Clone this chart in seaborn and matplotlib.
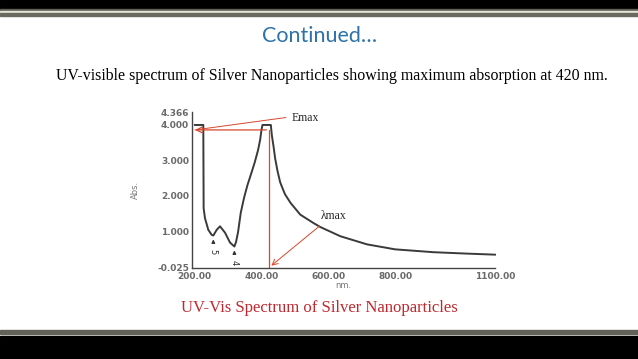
import numpy as np
import pandas as pd
import matplotlib
matplotlib.use('Agg')
import matplotlib.pyplot as plt
import seaborn as sns
from matplotlib.patches import Rectangle

# 1. DATA
wavelength_nm = [200, 212, 226, 227, 231, 241, 251, 256, 266, 276, 291, 306, 319, 324,
                 330, 338, 348, 358, 370, 380, 390, 396, 400, 403, 428, 431, 436,
                 441, 448, 456, 470, 487, 516, 556, 576, 636, 716, 800, 914, 1014, 1100]
absorbance = [4.00, 4.00, 4.00, 1.65, 1.37, 1.04, 0.90, 0.88, 1.04, 1.14, 0.96, 0.68, 0.57, 0.70,
              0.98, 1.52, 1.95, 2.30, 2.65, 2.95, 3.30, 3.58, 3.86, 4.00, 4.00, 3.71, 3.40,
              3.05, 2.70, 2.38, 2.05, 1.80, 1.47, 1.23, 1.12, 0.86, 0.63, 0.49, 0.41, 0.37, 0.34]
tick_x = [200, 400, 600, 800, 1000, 1100]
tick_x_labels = ['200.00', '400.00', '600.00', '800.00', '', '1100.00']
tick_y = [-0.025, 1.0, 2.0, 3.0, 4.0, 4.366]
tick_y_labels = ['-0.025', '1.000', '2.000', '3.000', '4.000', '4.366']
peak_marks = [(256, 0.88, '5'), (319, 0.57, '4')]

df = pd.DataFrame({'nm': wavelength_nm, 'Abs': absorbance})

# 2. SLIDE CANVAS
sns.set_style('white')
fig = plt.figure(figsize=(6.38, 3.59), dpi=100)

# slide frame bars (top and bottom)
def band(y0, h, color):
    fig.patches.append(Rectangle((0, 1 - (y0 + h) / 359), 1, h / 359,
                                 transform=fig.transFigure, color=color, zorder=0))

band(0, 8.5, 'black')
band(8.5, 3, '#5e5e56')
band(11.5, 1.5, '#e8e6d8')
band(13, 3, '#6a6a60')
band(330, 4, '#626258')
band(335.5, 23.5, 'black')

fig.text(320 / 638, 1 - 36 / 359, 'Continued…', ha='center', va='center',
         fontsize=15.5, color='#2f72a8', family='Lato')
fig.text(332 / 638, 1 - 76 / 359,
         'UV-visible spectrum of Silver Nanoparticles showing maximum absorption at 420 nm.',
         ha='center', va='center', fontsize=11.4, color='black', family='Liberation Serif')
fig.text(319 / 638, 1 - 308 / 359, 'UV-Vis Spectrum of Silver Nanoparticles',
         ha='center', va='center', fontsize=12, color='#c0282e', family='Liberation Serif')

# 3. SPECTRUM PANEL
ax = fig.add_axes([191.7 / 638, (359 - 267.6) / 359, 303.8 / 638, (267.6 - 112) / 359])
sns.lineplot(data=df, x='nm', y='Abs', ax=ax, color='#3a3a3a', linewidth=1.4)
ax.set_xlim(191.3, 1100)
ax.set_ylim(-0.025, 4.366)
sns.despine(ax=ax)
for s in ['left', 'bottom']:
    ax.spines[s].set_color('#444444')
    ax.spines[s].set_linewidth(1.0)
ax.set_xticks(tick_x)
ax.set_xticklabels(tick_x_labels)
ax.set_yticks(tick_y)
ax.set_yticklabels(tick_y_labels)
ax.tick_params(axis='both', direction='in', length=4, width=1, color='#444444',
               labelsize=6.5, labelcolor='#6a6a6a')
ax.tick_params(axis='x', pad=3.5)
ax.tick_params(axis='y', pad=2)
for lab in ax.get_xticklabels() + ax.get_yticklabels():
    lab.set_fontweight('bold')
ax.set_xlabel('nm.', fontsize=6, color='#777777', labelpad=0)
ax.set_ylabel('Abs.', fontsize=6, color='#777777', labelpad=12)

# peak markers
for x, y, lbl in peak_marks:
    ax.annotate('', xy=(x, y - 0.03), xytext=(x, y - 0.3),
                arrowprops=dict(arrowstyle='-|>', color='#333333', lw=0.8, mutation_scale=5))
    ax.text(x, y - 0.45, lbl, rotation=-90, ha='center', va='center', fontsize=6, color='#333333')

# 4. Emax / lambda-max ANNOTATIONS
red = '#d8472c'
ax.annotate('', xy=(193, 3.86), xytext=(423, 3.86),
            arrowprops=dict(arrowstyle='->', color=red, lw=0.9), annotation_clip=False)
ax.plot([423, 423], [3.86, -0.02], color=red, lw=0.9, clip_on=False)
ax.plot([201, 473], [3.86, 4.21], color=red, lw=0.7, clip_on=False)
ax.text(491, 4.2, 'Emax', ha='left', va='center', fontsize=8.5, family='Liberation Serif')
ax.annotate('', xy=(423, -0.02), xytext=(579, 1.19),
            arrowprops=dict(arrowstyle='->', color=red, lw=0.7), annotation_clip=False)
ax.text(577, 1.42, 'λmax', ha='left', va='center', fontsize=8.5, family='Liberation Serif')

# 5. EXPORT
fig.savefig('out.png', dpi=100)
